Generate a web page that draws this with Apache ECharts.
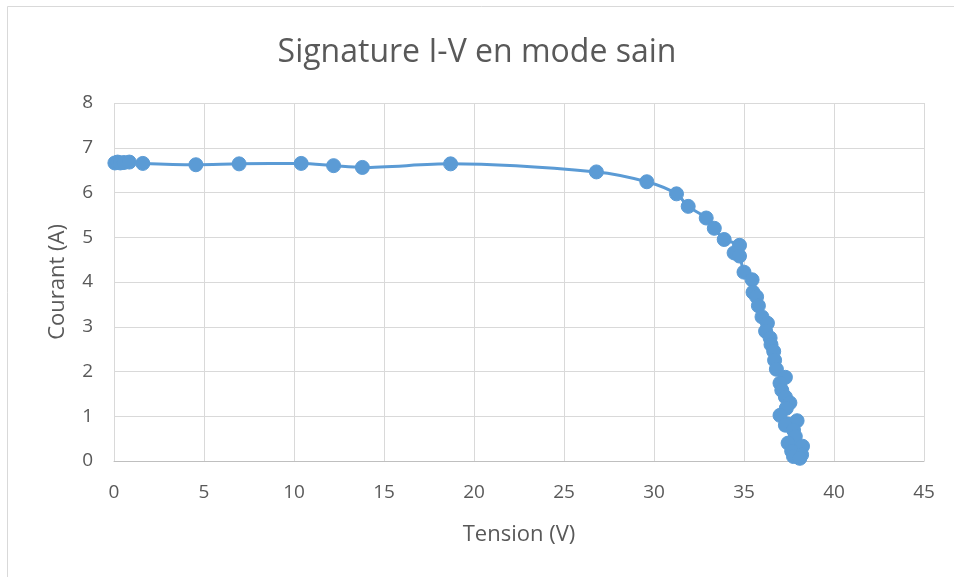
<!DOCTYPE html>
<html>
<head>
<meta charset="utf-8">
<script src="https://cdn.jsdelivr.net/npm/echarts@6/dist/echarts.min.js"></script>
<style>
  html, body { margin: 0; padding: 0; background: #fff; }
  #chart { width: 954px; height: 577px; }
</style>
</head>
<body>
<div id="chart"></div>
<script>
// Mesures I-V du module en fonctionnement sain
const tension = [
  0.05, 0.2, 0.35, 0.55, 0.85, 1.6, 4.55, 6.95, 10.4, 12.2, 13.8, 18.7,
  26.8, 29.6, 31.25, 31.9, 32.9, 33.35, 33.9, 34.75, 34.45, 34.75,
  35.0, 35.45, 35.5, 35.7, 35.8, 36.0, 36.3, 36.2, 36.45, 36.5, 36.65,
  36.7, 36.8, 37.3, 37.0, 37.1, 37.3, 37.55, 37.35, 37.0, 37.95, 37.3,
  37.75, 37.85, 37.45, 38.25, 37.65, 38.2, 37.75, 38.1
];
const courant = [
  6.66, 6.68, 6.66, 6.67, 6.68, 6.65, 6.62, 6.64, 6.65, 6.6, 6.56, 6.64,
  6.46, 6.24, 5.97, 5.69, 5.43, 5.2, 4.95, 4.82, 4.65, 4.58,
  4.22, 4.05, 3.77, 3.67, 3.47, 3.22, 3.08, 2.9, 2.75, 2.6, 2.45,
  2.25, 2.05, 1.87, 1.74, 1.58, 1.43, 1.3, 1.18, 1.02, 0.9, 0.8,
  0.69, 0.55, 0.4, 0.33, 0.22, 0.14, 0.1, 0.06
];
const xTicks = [0, 45, 5];
const yTicks = [0, 8, 1];

const points = tension.map((v, i) => [v, courant[i]]);
const textColor = '#595959';
const font = '"Open Sans", Lato, sans-serif';

const chart = echarts.init(document.getElementById('chart'), null, { renderer: 'canvas' });
chart.setOption({
  animation: false,
  backgroundColor: '#ffffff',
  title: {
    text: 'Signature I-V en mode sain',
    left: 'center',
    top: 32,
    textStyle: { color: textColor, fontSize: 32, fontWeight: 'normal', fontFamily: font }
  },
  graphic: [{
    type: 'rect',
    shape: { x: 7.5, y: 6.5, width: 1000, height: 1000 },
    style: { fill: 'none', stroke: '#D9D9D9', lineWidth: 1 },
    silent: true
  }],
  grid: { left: 114, right: 30, top: 103, bottom: 116 },
  xAxis: {
    type: 'value',
    min: xTicks[0], max: xTicks[1], interval: xTicks[2],
    name: 'Tension (V)',
    nameLocation: 'middle',
    nameGap: 63,
    nameTextStyle: { color: textColor, fontSize: 22, fontFamily: font },
    axisLine: { show: true, lineStyle: { color: '#BFBFBF', width: 1 } },
    axisTick: { show: false },
    axisLabel: { color: textColor, fontSize: 19, margin: 22, fontFamily: font },
    splitLine: { show: true, lineStyle: { color: '#D9D9D9', width: 1 } }
  },
  yAxis: {
    type: 'value',
    min: yTicks[0], max: yTicks[1], interval: yTicks[2],
    name: 'Courant (A)',
    nameLocation: 'middle',
    nameGap: 45,
    nameRotate: 90,
    nameTextStyle: { color: textColor, fontSize: 22, fontFamily: font },
    axisLine: { show: false },
    axisTick: { show: false },
    axisLabel: { color: textColor, fontSize: 19, margin: 21, fontFamily: font },
    splitLine: { show: true, lineStyle: { color: '#D9D9D9', width: 1 } }
  },
  series: [{
    type: 'line',
    data: points,
    smooth: 0.3,
    symbol: 'circle',
    symbolSize: 14,
    showAllSymbol: true,
    lineStyle: { color: '#5B9BD5', width: 3 },
    itemStyle: { color: '#5B9BD5', borderColor: '#5B9BD5', borderWidth: 1 }
  }]
});
</script>
</body>
</html>
